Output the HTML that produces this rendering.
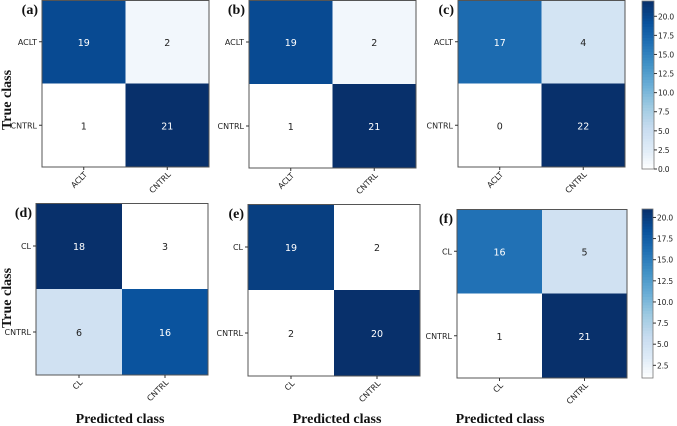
<!DOCTYPE html>
<html><head><meta charset="utf-8">
<style>body{margin:0;background:#fff;width:677px;height:426px;overflow:hidden}svg{display:block}</style>
</head><body>
<svg id="fig" width="677" height="426" viewBox="0 0 677 426"></svg>
<script>
// data
const panelLetters = ["(a)","(b)","(c)","(d)","(e)","(f)"];
const topClasses = ["ACLT","CNTRL"];
const bottomClasses = ["CL","CNTRL"];
const valuesA = [[19,2],[1,21]];
const valuesB = [[19,2],[1,21]];
const valuesC = [[17,4],[0,22]];
const valuesD = [[18,3],[6,16]];
const valuesE = [[19,2],[2,20]];
const valuesF = [[16,5],[1,21]];
const cbTicksTop = [0,2.5,5,7.5,10,12.5,15,17.5,20];
const cbTicksBottom = [2.5,5,7.5,10,12.5,15,17.5,20];

const NS="http://www.w3.org/2000/svg";
const svg=document.getElementById('fig');
function mk(tag,attrs,parent){const e=document.createElementNS(NS,tag);for(const k in attrs)e.setAttribute(k,attrs[k]);(parent||svg).appendChild(e);return e;}
const blues=["#ffffff","#deebf7","#c6dbef","#9ecae1","#6baed6","#4292c6","#2171b5","#08519c","#08306b"];
function hex(c){return [1,3,5].map(i=>parseInt(c.substr(i,2),16));}
function cmap(t){t=Math.max(0,Math.min(1,t));const p=t*8,i=Math.min(7,Math.floor(p)),f=p-i;const a=hex(blues[i]),b=hex(blues[i+1]);return 'rgb('+a.map((v,k)=>Math.round(v+(b[k]-v)*f)).join(',')+')';}
const font='"DejaVu Sans","Liberation Sans",sans-serif';
const serif='"Liberation Serif",serif';

const panels=[
 {v:valuesA,cls:topClasses,x:42,y:0,w:167,h:167},
 {v:valuesB,cls:topClasses,x:249,y:0,w:167,h:168},
 {v:valuesC,cls:topClasses,x:458,y:0,w:167,h:167},
 {v:valuesD,cls:bottomClasses,x:36,y:203,w:172,h:172},
 {v:valuesE,cls:bottomClasses,x:248,y:204,w:172,h:172},
 {v:valuesF,cls:bottomClasses,x:457,y:209,w:170,h:169}
];
panels.forEach((p,pi)=>{
 const g=mk('g',{});
 
 
 const flat=p.v.flat();const mn=Math.min(...flat),mx=Math.max(...flat);
 const cw=p.w/2,ch=p.h/2;
 for(let r=0;r<2;r++)for(let c=0;c<2;c++){
  const val=p.v[r][c];const t=(val-mn)/(mx-mn);
  const rect=mk('rect',{x:p.x+c*cw,y:p.y+r*ch,width:cw,height:ch,fill:cmap(t)},g);
  
  
  const tx=mk('text',{x:p.x+c*cw+cw/2,y:p.y+r*ch+ch/2+4,'text-anchor':'middle','font-size':9.5,'font-family':font,fill:val>(mn+mx)/2?'#fff':'#222'},g);
  tx.textContent=val;
  
  
 }
 mk('rect',{x:p.x,y:p.y+0.5,width:p.w,height:p.h-0.5,fill:'none',stroke:'#555','stroke-width':1},g);
 for(let i=0;i<2;i++){
  const ty=p.y+i*ch+ch/2;
  mk('line',{x1:p.x-3,x2:p.x,y1:ty,y2:ty,stroke:'#333'},g);
  const yl=mk('text',{x:p.x-5,y:ty+3,'text-anchor':'end','font-size':8,'font-family':font,fill:'#222'},g);
  yl.textContent=p.cls[i];
  
  
  const tx=p.x+i*cw+cw/2,by=p.y+p.h;
  mk('line',{x1:tx,x2:tx,y1:by,y2:by+3,stroke:'#333'},g);
  const xl=mk('text',{x:tx+4,y:by+8,'text-anchor':'end','font-size':8,'font-family':font,fill:'#222',transform:'rotate(-45 '+(tx+4)+' '+(by+8)+')'},g);
  xl.textContent=p.cls[i];
  
  
 }
 const lt=mk('text',{x:p.x-4,y:p.y+14,'text-anchor':'end','font-size':14,'font-weight':'bold','font-family':serif,fill:'#111'},g);
 lt.textContent=panelLetters[pi];
 
 
});
function colorbar(x,y,w,h,vmin,vmax,ticks,name){
 const g=mk('g',{});
 
 
 const n=60;
 for(let i=0;i<n;i++){mk('rect',{x:x,y:y+h-(i+1)*h/n,width:w,height:h/n+0.6,fill:cmap((i+0.5)/n)},g);}
 mk('rect',{x:x,y:y,width:w,height:h,fill:'none',stroke:'#777','stroke-width':0.8},g);
 ticks.forEach(t=>{
  const ty=y+h-(t-vmin)/(vmax-vmin)*h;
  mk('line',{x1:x+w,x2:x+w+3,y1:ty,y2:ty,stroke:'#333'},g);
  const tl=mk('text',{x:x+w+4,y:ty+3,'font-size':7.5,'letter-spacing':-0.2,'font-family':font,fill:'#222'},g);
  tl.textContent=t.toFixed(1);
  
  
 });
}
colorbar(642,1,12,168,0,22,cbTicksTop,'colorbar-top');
colorbar(642,209,11,169,1,21,cbTicksBottom,'colorbar-bottom');
[[100,'y-axis-title-top'],[298,'y-axis-title-bottom']].forEach(([cy,nm])=>{
 const t=mk('text',{x:11,y:cy,'text-anchor':'middle','font-size':14,'font-weight':'bold','font-family':serif,fill:'#111',transform:'rotate(-90 11 '+cy+')'});
 t.textContent='True class';
 
 
});
[120,337,500].forEach((cx,i)=>{
 const t=mk('text',{x:cx,y:423,'text-anchor':'middle','font-size':14,'font-weight':'bold','font-family':serif,fill:'#111'});
 t.textContent='Predicted class';
 
 
});
</script>
</body></html>
